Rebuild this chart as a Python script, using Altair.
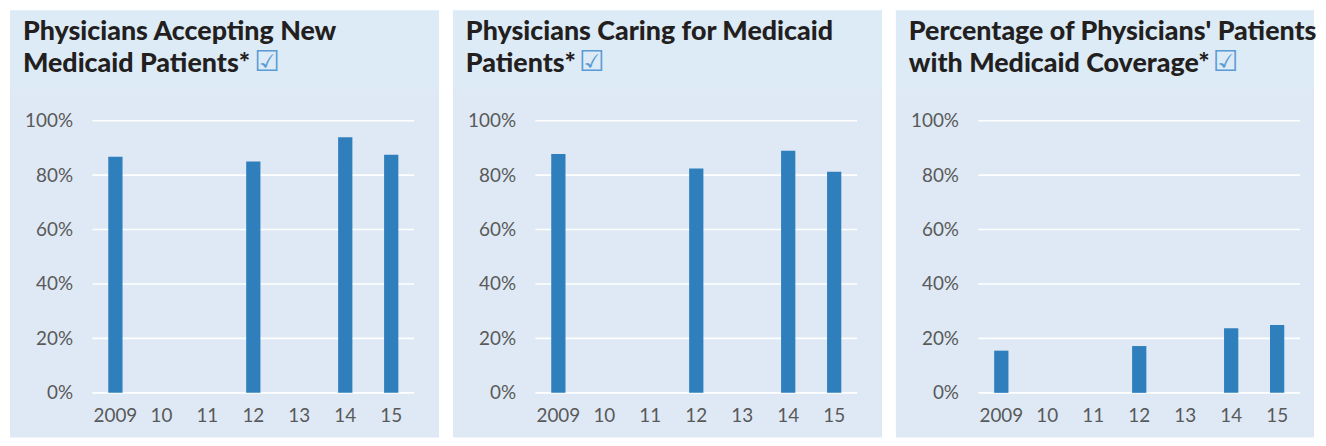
import altair as alt
import pandas as pd

years = ["2009", "10", "11", "12", "13", "14", "15"]
titles = [
    ["Physicians Accepting New", "Medicaid Patients*"],
    ["Physicians Caring for Medicaid", "Patients*"],
    ["Percentage of Physicians' Patients", "with Medicaid Coverage*"],
]
accepting = [0.868, None, None, 0.850, None, 0.939, 0.875]
caring = [0.878, None, None, 0.824, None, 0.890, 0.812]
share = [0.155, None, None, 0.172, None, 0.237, 0.249]
series = [accepting, caring, share]
grid_ticks = [0.0, 0.2, 0.4, 0.6, 0.8, 1.0]
check_x = [163, 44, 236]
right_pad = [25, 25, 14]

W, H = 324, 274
BAR = "#2f7fbd"
BG_TOP = "#ddebf7"
BG = "#dee9f5"
FONT = "Lato"


def panel(i):
    df = pd.DataFrame({"year": years, "value": series[i]})
    one = pd.DataFrame({"k": [0]})
    yscale = alt.Scale(domain=[0, 1], nice=False, zero=True)
    yaxis = alt.Axis(
        title=None, values=grid_ticks, format=".0%", domain=False,
        ticks=False, grid=False, labelFont=FONT, labelFontSize=19,
        labelColor="#595959", labelPadding=20, zindex=1,
    )

    bg = alt.Chart(one).mark_rect(color=BG).encode(
        x=alt.value(-83), x2=alt.value(W + right_pad[i]),
        y=alt.value(-111), y2=alt.value(H + 45),
    )
    bg_top = alt.Chart(one).mark_rect(color=BG_TOP).encode(
        x=alt.value(-83), x2=alt.value(W + right_pad[i]),
        y=alt.value(-111), y2=alt.value(-32),
    )
    grid = alt.Chart(pd.DataFrame({"value": grid_ticks})).mark_rule(
        color="white", strokeWidth=1.6
    ).encode(y=alt.Y("value:Q", scale=yscale, axis=yaxis))

    bars = alt.Chart(df).mark_bar(color=BAR).encode(
        x=alt.X(
            "year:N",
            sort=years,
            scale=alt.Scale(domain=years, paddingInner=0.69, paddingOuter=0.345),
            axis=alt.Axis(
                title=None, labelAngle=0, domain=False, ticks=False,
                labelFont=FONT, labelFontSize=19, labelColor="#595959",
                labelPadding=14, zindex=1,
            ),
        ),
        y=alt.Y("value:Q", scale=yscale, axis=yaxis),
    )

    title = alt.Chart(one).mark_text(
        text=titles[i], lineHeight=32, align="left", baseline="alphabetic",
        font=FONT, fontSize=27, fontWeight=900, color="#231f20",
    ).encode(x=alt.value(-70), y=alt.value(-81))

    check = alt.Chart(one).mark_text(
        text="\u2611", align="left", baseline="alphabetic",
        font="DejaVu Sans", fontSize=29, color="#5b9bd5",
    ).encode(x=alt.value(check_x[i]), y=alt.value(-50))

    return alt.layer(bg, bg_top, grid, bars, title, check).properties(
        width=W, height=H
    )


chart = alt.hconcat(*[panel(i) for i in range(3)], spacing=12).properties(
    padding={"left": 1, "top": 0, "right": 0, "bottom": 0}
).configure_view(stroke=None).configure(background="white")

chart.save("out.html", embed_options={"renderer": "svg", "actions": False})
